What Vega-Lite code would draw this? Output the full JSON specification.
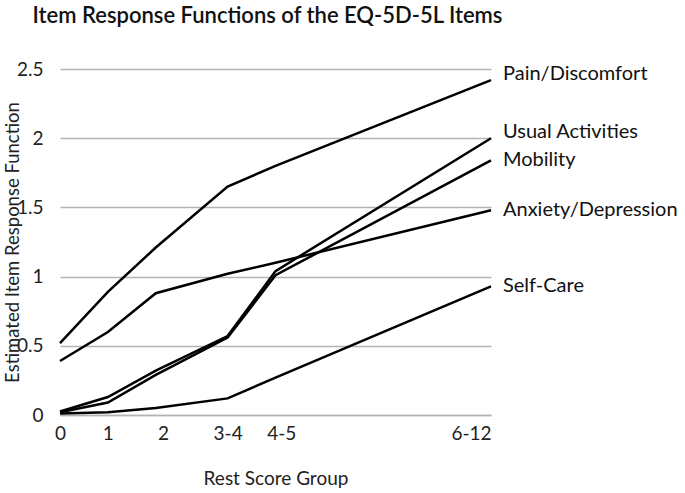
{
  "$schema": "https://vega.github.io/schema/vega-lite/v6.json",
  "autosize": "none",
  "width": 431,
  "height": 346,
  "padding": {"left": 60, "top": 69, "right": 194, "bottom": 78},
  "background": "white",
  "config": {
    "view": {"stroke": null},
    "font": "Lato"
  },
  "title": {
    "text": "Item Response Functions of the EQ-5D-5L Items",
    "fontSize": 22,
    "fontWeight": 600,
    "font": "Lato",
    "color": "#111111",
    "anchor": "middle",
    "baseline": "bottom",
    "offset": 10,
    "dx": -8
  },
  "data": {
    "values": [
      {"item": "Pain/Discomfort", "group": 0, "irf": 0.52},
      {"item": "Pain/Discomfort", "group": 1, "irf": 0.89},
      {"item": "Pain/Discomfort", "group": 2, "irf": 1.21},
      {"item": "Pain/Discomfort", "group": 3.5, "irf": 1.65},
      {"item": "Pain/Discomfort", "group": 4.5, "irf": 1.8},
      {"item": "Pain/Discomfort", "group": 9, "irf": 2.42},
      {"item": "Usual Activities", "group": 0, "irf": 0.025},
      {"item": "Usual Activities", "group": 1, "irf": 0.13},
      {"item": "Usual Activities", "group": 2, "irf": 0.32},
      {"item": "Usual Activities", "group": 3.5, "irf": 0.57},
      {"item": "Usual Activities", "group": 4.5, "irf": 1.04},
      {"item": "Usual Activities", "group": 9, "irf": 2.0},
      {"item": "Mobility", "group": 0, "irf": 0.02},
      {"item": "Mobility", "group": 1, "irf": 0.09},
      {"item": "Mobility", "group": 2, "irf": 0.29},
      {"item": "Mobility", "group": 3.5, "irf": 0.56},
      {"item": "Mobility", "group": 4.5, "irf": 1.01},
      {"item": "Mobility", "group": 9, "irf": 1.84},
      {"item": "Anxiety/Depression", "group": 0, "irf": 0.39},
      {"item": "Anxiety/Depression", "group": 1, "irf": 0.6},
      {"item": "Anxiety/Depression", "group": 2, "irf": 0.88},
      {"item": "Anxiety/Depression", "group": 3.5, "irf": 1.02},
      {"item": "Anxiety/Depression", "group": 4.5, "irf": 1.1},
      {"item": "Anxiety/Depression", "group": 9, "irf": 1.48},
      {"item": "Self-Care", "group": 0, "irf": 0.01},
      {"item": "Self-Care", "group": 1, "irf": 0.02},
      {"item": "Self-Care", "group": 2, "irf": 0.05},
      {"item": "Self-Care", "group": 3.5, "irf": 0.12},
      {"item": "Self-Care", "group": 4.5, "irf": 0.27},
      {"item": "Self-Care", "group": 9, "irf": 0.93}
    ]
  },
  "encoding": {
    "x": {
      "field": "group",
      "type": "quantitative",
      "scale": {"domain": [0, 9], "nice": false, "zero": false},
      "axis": {
        "title": "Rest Score Group",
        "values": [0, 1, 2.15, 3.5, 4.62, 9],
        "labelExpr": "datum.value == 0 ? '0' : datum.value == 1 ? '1' : datum.value < 3 ? '2' : datum.value == 3.5 ? '3-4' : datum.value < 5 ? '4-5' : '6-12'",
        "labelAlign": {"condition": {"test": "datum.value == 9", "value": "right"}, "value": "center"},
        "grid": false,
        "ticks": false,
        "domain": true,
        "domainColor": "#b3b3b3",
        "domainWidth": 1.5,
        "labelFontSize": 19,
        "labelColor": "#222222",
        "labelPadding": 9,
        "labelFlush": false,
        "titleFontSize": 19,
        "titleFontWeight": "normal",
        "titleColor": "#222222",
        "titlePadding": 26
      }
    },
    "y": {
      "field": "irf",
      "type": "quantitative",
      "scale": {"domain": [0, 2.5], "nice": false},
      "axis": {
        "title": "Estimated Item Response Function",
        "values": [0, 0.5, 1, 1.5, 2, 2.5],
        "format": "~g",
        "domain": false,
        "ticks": false,
        "grid": true,
        "gridColor": "#b3b3b3",
        "gridWidth": 1.5,
        "labelFontSize": 19,
        "labelColor": "#222222",
        "labelPadding": 17,
        "titleFontSize": 18.5,
        "titleFontWeight": "normal",
        "titleColor": "#222222",
        "titlePadding": -6
      }
    }
  },
  "layer": [
    {
      "mark": {"type": "line", "color": "black", "strokeWidth": 2.5},
      "encoding": {
        "detail": {"field": "item", "type": "nominal"}
      }
    },
    {
      "transform": [
        {"filter": "datum.group == 9"},
        {"filter": "datum.item == 'Pain/Discomfort' || datum.item == 'Usual Activities'"}
      ],
      "mark": {"type": "text", "align": "left", "baseline": "middle", "dx": 12, "dy": -6, "fontSize": 20, "color": "#111111"},
      "encoding": {
        "text": {"field": "item", "type": "nominal"}
      }
    },
    {
      "transform": [
        {"filter": "datum.group == 9"},
        {"filter": "datum.item != 'Pain/Discomfort' && datum.item != 'Usual Activities'"}
      ],
      "mark": {"type": "text", "align": "left", "baseline": "middle", "dx": 12, "dy": 0, "fontSize": 20, "color": "#111111"},
      "encoding": {
        "text": {"field": "item", "type": "nominal"}
      }
    }
  ]
}
